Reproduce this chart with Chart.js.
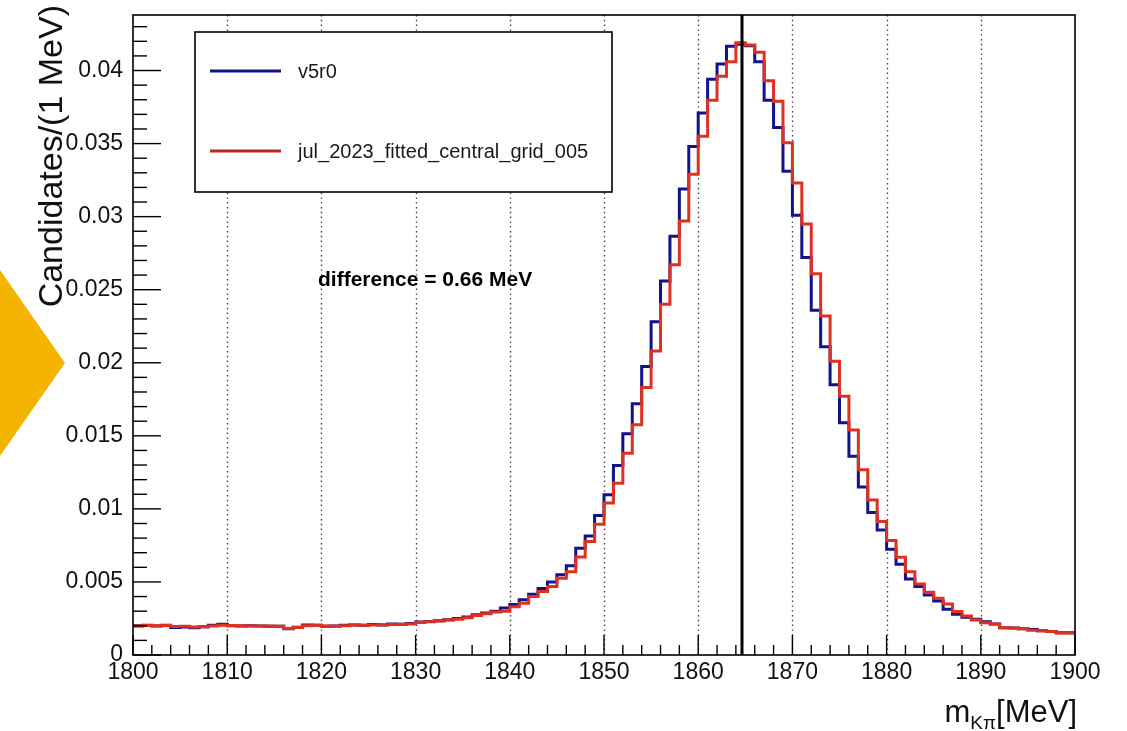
<!DOCTYPE html>
<html><head><meta charset="utf-8">
<script src="https://cdn.jsdelivr.net/npm/chart.js@4.4.0/dist/chart.umd.min.js"></script>
<style>html,body{margin:0;padding:0;background:#fff;}#wrap{width:1127px;height:731px;position:relative;}</style>
</head><body><div id="wrap"><canvas id="c" width="1127" height="731"></canvas></div>
<script>
// ---- data ----
const binStart = 1800;   // MeV, lower edge of first bin
const binWidth = 1;      // MeV
const v5r0 = [
 0.00200,0.00200,0.00203,0.00198,0.00204,0.00188,0.00192,0.00186,0.00193,0.00203,
 0.00210,0.00200,0.00198,0.00200,0.00198,0.00197,0.00197,0.00180,0.00190,0.00206,
 0.00204,0.00196,0.00198,0.00204,0.00206,0.00203,0.00208,0.00206,0.00212,0.00210,
 0.00215,0.00225,0.00230,0.00235,0.00242,0.00250,0.00260,0.00275,0.00288,0.00300,
 0.00322,0.00345,0.00378,0.00416,0.00455,0.00500,0.00550,0.00610,0.00730,0.00815,
 0.00955,0.01096,0.01297,0.01515,0.01720,0.01975,0.02280,0.02560,0.02865,0.03190,
 0.03480,0.03710,0.03940,0.04045,0.04166,0.04180,0.04170,0.04060,0.03797,0.03610,
 0.03310,0.03010,0.02720,0.02360,0.02110,0.01850,0.01590,0.01360,0.01150,0.00975,
 0.00856,0.00724,0.00621,0.00520,0.00468,0.00410,0.00370,0.00313,0.00279,0.00258,
 0.00244,0.00228,0.00212,0.00186,0.00184,0.00180,0.00174,0.00166,0.00160,0.00152
];
const jul2023 = [
 0.00202,0.00198,0.00202,0.00200,0.00202,0.00195,0.00196,0.00192,0.00194,0.00199,
 0.00204,0.00202,0.00200,0.00199,0.00199,0.00198,0.00196,0.00182,0.00188,0.00200,
 0.00203,0.00199,0.00197,0.00201,0.00205,0.00204,0.00206,0.00207,0.00209,0.00211,
 0.00213,0.00222,0.00228,0.00233,0.00240,0.00245,0.00255,0.00270,0.00282,0.00295,
 0.00300,0.00330,0.00354,0.00400,0.00434,0.00468,0.00525,0.00570,0.00670,0.00776,
 0.00895,0.01040,0.01176,0.01380,0.01575,0.01830,0.02080,0.02400,0.02670,0.02970,
 0.03290,0.03550,0.03797,0.03960,0.04060,0.04190,0.04175,0.04125,0.03930,0.03790,
 0.03505,0.03230,0.02950,0.02610,0.02320,0.02010,0.01770,0.01540,0.01267,0.01060,
 0.00913,0.00783,0.00669,0.00570,0.00486,0.00429,0.00388,0.00349,0.00297,0.00267,
 0.00240,0.00221,0.00212,0.00186,0.00184,0.00180,0.00170,0.00166,0.00160,0.00150
];
const seriesNames = ['v5r0', 'jul_2023_fitted_central_grid_005'];
const xTickLabels = ['1800','1810','1820','1830','1840','1850','1860','1870','1880','1890','1900'];
const yTickLabels = ['0','0.005','0.01','0.015','0.02','0.025','0.03','0.035','0.04'];
const markerMass = 1864.65;           // vertical reference line
const annotation = 'difference = 0.66 MeV';
const yTitle = 'Candidates/(1 MeV)';

// ---- build ----
function histPoints(vals){
  const pts = vals.map((v,i)=>({x: binStart + i*binWidth, y: v}));
  pts.push({x: binStart + vals.length*binWidth, y: vals[vals.length-1]});
  return pts;
}
const FONT = '"Liberation Sans", Arial, Helvetica, sans-serif';
const BLUE = '#12128c', RED = '#e0301e', RED_LEG = '#c0281f';
const X_MIN = 1800, X_MAX = 1900, Y_MAX = 0.0438;

const decor = {
  id: 'decor',
  beforeDraw(chart){
    const c = chart.ctx;
    c.save();
    c.fillStyle = '#fff'; c.fillRect(0,0,chart.width,chart.height);
    c.fillStyle = '#f4b400';
    c.beginPath(); c.moveTo(0,270); c.lineTo(65,363); c.lineTo(0,456); c.closePath(); c.fill();
    c.restore();
  },
  beforeDatasetsDraw(chart){
    const c = chart.ctx, a = chart.chartArea, xs = chart.scales.x;
    c.save();
    c.strokeStyle = '#333'; c.lineWidth = 1.3; c.setLineDash([1.4,3.4]);
    for (let m = X_MIN + 10; m < X_MAX; m += 10){
      const px = Math.round(xs.getPixelForValue(m)) + 0.5;
      c.beginPath(); c.moveTo(px, a.top); c.lineTo(px, a.bottom); c.stroke();
    }
    c.restore();
  },
  afterDatasetsDraw(chart){
    const c = chart.ctx, a = chart.chartArea, xs = chart.scales.x, ys = chart.scales.y;
    c.save();
    c.strokeStyle = '#000'; c.lineWidth = 1.6; c.setLineDash([]);
    c.strokeRect(a.left, a.top, a.right - a.left, a.bottom - a.top);
    // x ticks
    c.lineWidth = 1.4;
    for (let m = X_MIN; m <= X_MAX; m += 2){
      const px = xs.getPixelForValue(m);
      const len = (m % 10 === 0) ? 20 : 10;
      c.beginPath(); c.moveTo(px, a.bottom); c.lineTo(px, a.bottom - len); c.stroke();
    }
    // y ticks
    for (let k = 0; k <= 43; k++){
      const py = ys.getPixelForValue(k*0.001);
      const len = (k % 5 === 0) ? 28 : 14;
      c.beginPath(); c.moveTo(a.left, py); c.lineTo(a.left + len, py); c.stroke();
    }
    // legend
    c.fillStyle = '#fff'; c.fillRect(195,32,417,160);
    c.lineWidth = 1.6; c.strokeStyle = '#000'; c.strokeRect(195,32,417,160);
    c.lineWidth = 3;
    c.strokeStyle = BLUE; c.beginPath(); c.moveTo(210,71); c.lineTo(281,71); c.stroke();
    c.strokeStyle = RED_LEG; c.beginPath(); c.moveTo(210,151); c.lineTo(281,151); c.stroke();
    c.fillStyle = '#1a1a1a'; c.font = '20px ' + FONT; c.textBaseline = 'middle'; c.textAlign = 'left';
    c.fillText(seriesNames[0], 298, 72);
    c.fillText(seriesNames[1], 298, 152);
    // annotation
    c.font = 'bold 21px ' + FONT; c.fillStyle = '#000';
    c.fillText(annotation, 318, 280);
    c.restore();
  },
  afterDraw(chart){
    const c = chart.ctx, a = chart.chartArea;
    c.save();
    c.fillStyle = '#111';
    // y title
    c.translate(62, 5); c.rotate(-Math.PI/2);
    c.font = '34px ' + FONT; c.textAlign = 'right'; c.textBaseline = 'alphabetic';
    c.fillText(yTitle, 0, 0);
    c.restore();
    // x title: m_{Kπ}[MeV]
    c.save();
    c.fillStyle = '#111'; c.textBaseline = 'alphabetic'; c.textAlign = 'left';
    const big = '31px ' + FONT, small = '19px ' + FONT;
    c.font = big; const w1 = c.measureText('m').width, w3 = c.measureText('[MeV]').width;
    c.font = small; const w2 = c.measureText('Kπ').width;
    let x = a.right - (w1 + w2 + w3) + 2; const base = 722;
    c.font = big; c.fillText('m', x, base); x += w1;
    c.font = small; c.fillText('Kπ', x, base + 7); x += w2;
    c.font = big; c.fillText('[MeV]', x, base);
    c.restore();
  }
};

new Chart(document.getElementById('c'), {
  type: 'line',
  data: { datasets: [
    { label: seriesNames[0], data: histPoints(v5r0), stepped: 'after', borderColor: BLUE, borderWidth: 3, pointRadius: 0, fill: false, order: 2 },
    { label: seriesNames[1], data: histPoints(jul2023), stepped: 'after', borderColor: RED, borderWidth: 3, pointRadius: 0, fill: false, order: 1 },
    { label: 'marker', data: [{x: markerMass, y: 0}, {x: markerMass, y: Y_MAX}], borderColor: '#000', borderWidth: 3, pointRadius: 0, fill: false, order: 0 }
  ]},
  options: {
    responsive: false, animation: false, events: [],
    layout: { padding: { left: 0, top: 15, right: 52, bottom: 0 } },
    plugins: { legend: { display: false }, tooltip: { enabled: false } },
    scales: {
      x: { type: 'linear', min: X_MIN, max: X_MAX,
           afterFit(s){ s.height = 76; s.paddingLeft = 0; s.paddingRight = 0; },
           grid: { display: false, drawTicks: false }, border: { display: false },
           ticks: { stepSize: 10, autoSkip: false, maxRotation: 0, padding: 4, color: '#111',
                    font: { family: FONT, size: 23 },
                    callback: (v) => xTickLabels[Math.round((v - X_MIN)/10)] } },
      y: { min: 0, max: Y_MAX,
           afterFit(s){ s.width = 133; s.paddingTop = 0; s.paddingBottom = 0; },
           grid: { display: false, drawTicks: false }, border: { display: false },
           ticks: { stepSize: 0.005, includeBounds: false, padding: 10, color: '#111',
                    font: { family: FONT, size: 23 },
                    callback: (v) => yTickLabels[Math.round(v/0.005)] } }
    }
  },
  plugins: [decor]
});
</script></body></html>
